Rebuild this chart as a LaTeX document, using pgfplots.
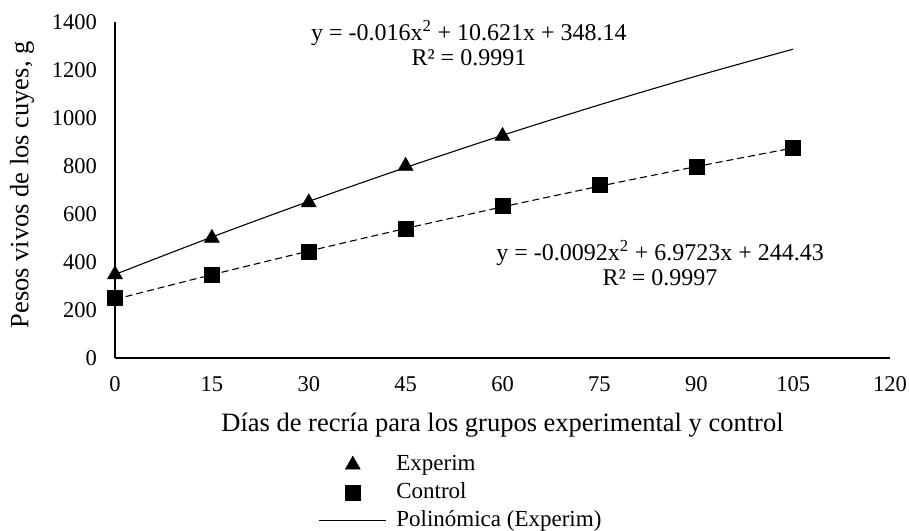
\documentclass[border=0pt]{standalone}
\usepackage{fontspec}
\setmainfont{Liberation Serif}
\usepackage{pgfplots}
\pgfplotsset{compat=1.18}
\pgfplotsset{
 markleg/.style={legend image code/.code={\draw[mark repeat=2,mark phase=2,##1] plot coordinates {(0bp,0bp)(34bp,0bp)(67bp,0bp)};}},
 lineleg/.style={legend image code/.code={\draw[##1] (0bp,0bp) -- (67bp,0bp);}},
}
\newcommand\tickfont{\fontsize{22.5bp}{27bp}\selectfont}
\newcommand\labfont{\fontsize{26.5bp}{31bp}\selectfont}
\newcommand\eqfont{\fontsize{24bp}{28bp}\selectfont}
\newcommand\legfont{\fontsize{23bp}{27bp}\selectfont}
\begin{document}
\begin{tikzpicture}
\begin{axis}[
 at={(115bp,173bp)}, anchor=south west,
 scale only axis, width=775bp, height=336bp,
 xmin=0,xmax=120,ymin=0,ymax=1400,
 xtick={0,15,...,120}, ytick={0,200,...,1400},
 axis x line=bottom, axis y line=left,
 axis line style={-},
 x axis line style={line width=1.8bp},
 y axis line style={line width=1.4bp},
 major tick length=0pt,
 tick label style={font=\tickfont},
 /pgf/number format/assume math mode=true,
 /pgf/number format/1000 sep={},
 xticklabel style={yshift=-15bp},
 yticklabel style={xshift=-14.5bp},
 xlabel={Días de recría para los grupos experimental y control},
 ylabel={Pesos vivos de los cuyes, g},
 label style={font=\labfont},
 xlabel style={at={(axis description cs:0.5,-0.199)}, anchor=center},
 ylabel style={at={(axis description cs:-0.12,0.515)}, anchor=center},
 legend style={draw=none, fill=none, at={(axis description cs:0.262,-0.283)}, anchor=north west,
   font=\legfont, inner sep=0pt, row sep=5bp,
   nodes={inner sep=0pt, text height=17bp, text depth=6bp},
   /tikz/column 1/.style={column sep=10bp}},
 legend cell align=left,
 clip=false,
]
\addplot[only marks, mark=triangle*, mark size=8.7bp, black, markleg]
  coordinates {(0,348) (15,500) (30,648) (45,800) (60,925)};
\addlegendentry{Experim}
\addplot[only marks, mark=square*, mark size=7.5bp, black, markleg]
  coordinates {(0,250) (15,345) (30,442) (45,540) (60,635) (75,720) (90,798) (105,876)};
\addlegendentry{Control}
\addplot[black, line width=1.1bp, smooth, no marks, lineleg]
  coordinates {(0,348.1) (15,503.9) (30,652.4) (45,793.7) (60,927.8) (75,1054.7) (90,1174.4) (105,1286.9)};
\addlegendentry{Polinómica (Experim)}
\addplot[black, line width=1.1bp, dash pattern=on 7bp off 4bp, smooth, no marks, forget plot]
  coordinates {(0,244.4) (15,346.9) (30,445.3) (45,539.6) (60,629.6) (75,715.6) (90,797.4) (105,875.1)};
\node[font=\eqfont] at (axis cs:54.8,1354) {y = -0.016x\textsuperscript{2} + 10.621x + 348.14};
\node[font=\eqfont] at (axis cs:54.8,1250) {R² = 0.9991};
\node[font=\eqfont] at (axis cs:84.4,437) {y = -0.0092x\textsuperscript{2} + 6.9723x + 244.43};
\node[font=\eqfont] at (axis cs:84.4,333) {R² = 0.9997};
\end{axis}
\pgfresetboundingbox
\useasboundingbox (0,0) rectangle (909bp,531bp);
\end{tikzpicture}
\end{document}
